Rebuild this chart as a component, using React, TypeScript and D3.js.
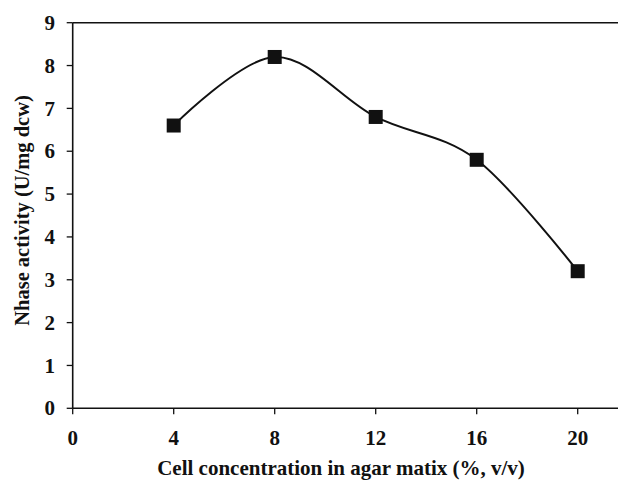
import * as d3 from "d3";

const concentrations = [4, 8, 12, 16, 20];
const activity = [6.6, 8.2, 6.8, 5.8, 3.2];
const xTicks = [0, 4, 8, 12, 16, 20];
const yTicks = [0, 1, 2, 3, 4, 5, 6, 7, 8, 9];

const WIDTH = 618;
const HEIGHT = 480;
const PLOT = { left: 72.7, top: 22.7, bottom: 408.3 };
const FONT = "'Liberation Serif', 'Times New Roman', serif";

export default function App() {
  const x = d3
    .scaleLinear()
    .domain([0, 22])
    .range([PLOT.left, PLOT.left + 22 * 25.25]);
  const y = d3.scaleLinear().domain([0, 9]).range([PLOT.bottom, PLOT.top]);

  const points = concentrations.map((c, i) => [c, activity[i]] as [number, number]);
  const line = d3
    .line<[number, number]>()
    .x((d) => x(d[0]))
    .y((d) => y(d[1]))
    .curve(d3.curveCatmullRom.alpha(0));

  return (
    <svg
      width={WIDTH}
      height={HEIGHT}
      style={{ position: "absolute", left: 0, top: 0, background: "#fff" }}
      fontFamily={FONT}
      fontWeight="bold"
    >
      {/* frame */}
      <line x1={PLOT.left} x2={WIDTH} y1={PLOT.top} y2={PLOT.top} stroke="#111" strokeWidth={1.6} />
      <line x1={PLOT.left} x2={PLOT.left} y1={PLOT.top} y2={PLOT.bottom} stroke="#111" strokeWidth={1.6} />
      <line x1={PLOT.left} x2={WIDTH} y1={PLOT.bottom} y2={PLOT.bottom} stroke="#111" strokeWidth={1.6} />

      {yTicks.map((t) => (
        <g key={"y" + t}>
          <line x1={PLOT.left - 6} x2={PLOT.left} y1={y(t)} y2={y(t)} stroke="#111" strokeWidth={1.3} />
          <text x={55} y={y(t)} dy="0.34em" textAnchor="end" fontSize={21} fill="#111">
            {t}
          </text>
        </g>
      ))}

      {xTicks.map((t) => (
        <g key={"x" + t}>
          <line x1={x(t)} x2={x(t)} y1={PLOT.bottom} y2={PLOT.bottom + 6} stroke="#111" strokeWidth={1.3} />
          <text x={x(t)} y={444.5} textAnchor="middle" fontSize={21} fill="#111">
            {t}
          </text>
        </g>
      ))}

      <path d={line(points) ?? ""} fill="none" stroke="#111" strokeWidth={2} />

      {points.map((p, i) => (
        <rect
          key={"m" + i}
          x={x(p[0]) - 7}
          y={y(p[1]) - 7}
          width={14}
          height={14}
          fill="#111"
        />
      ))}

      <text x={341} y={475} textAnchor="middle" fontSize={21} fill="#111">
        Cell concentration in agar matix (%, v/v)
      </text>
      <text
        transform={`translate(29,${210.5}) rotate(-90)`}
        textAnchor="middle"
        fontSize={20.5}
        fill="#111"
      >
        Nhase activity (U/mg dcw)
      </text>
    </svg>
  );
}
